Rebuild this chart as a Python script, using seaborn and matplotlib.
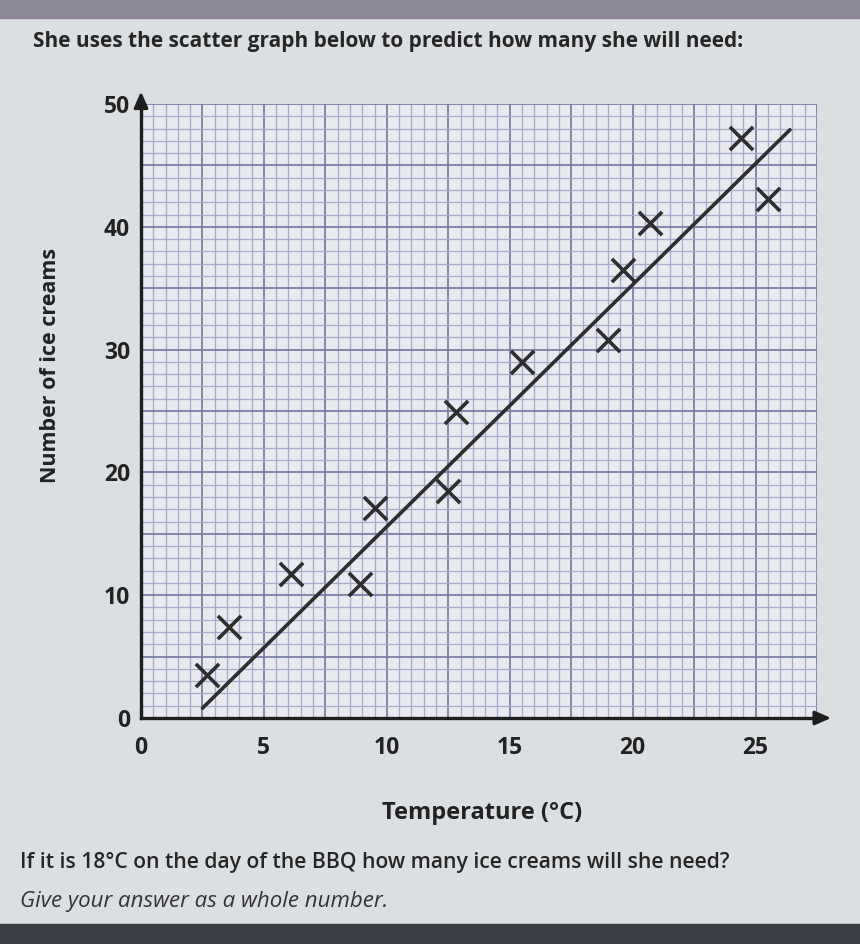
import numpy as np
import pandas as pd
import matplotlib
matplotlib.use("Agg")
import matplotlib.pyplot as plt
from matplotlib.ticker import MultipleLocator, FuncFormatter
from matplotlib.patches import Rectangle
import seaborn as sns

# ---- data ----
temperature = [2.7, 3.6, 6.1, 8.9, 9.5, 12.5, 12.8, 15.5, 19.0, 19.6, 20.7, 24.4, 25.5]
ice_creams = [3.5, 7.4, 11.7, 10.9, 17.1, 18.5, 24.9, 29.0, 30.8, 36.5, 40.3, 47.2, 42.3]
fit_x = [2.5, 26.4]
fit_y = [0.8, 47.9]

title_text = "She uses the scatter graph below to predict how many she will need:"
question_text = "If it is 18°C on the day of the BBQ how many ice creams will she need?"
hint_text = "Give your answer as a whole number."
x_label = "Temperature (°C)"
y_label = "Number of ice creams"

sns.set_theme(style="white")
plt.rcParams["font.family"] = ["Open Sans", "DejaVu Sans"]

fig = plt.figure(figsize=(8.6, 9.44), dpi=100)
fig.patch.set_facecolor("#dcdfe2")

# photo bands at top and bottom
fig.add_artist(Rectangle((0, 1 - 18 / 944), 1, 18 / 944, transform=fig.transFigure,
                         color="#8b8797", zorder=0))
fig.add_artist(Rectangle((0, 0), 1, 20 / 944, transform=fig.transFigure,
                         color="#3b3e45", zorder=0))

ax = fig.add_axes([141 / 860, (944 - 718) / 944, (817 - 141) / 860, (718 - 104) / 944])
ax.set_facecolor("#e8eaef")

df = pd.DataFrame({"t": temperature, "n": ice_creams})
fit = pd.DataFrame({"t": fit_x, "n": fit_y})

sns.lineplot(data=fit, x="t", y="n", ax=ax, color="#2e2e30", linewidth=2.6, zorder=4)
sns.scatterplot(data=df, x="t", y="n", ax=ax, marker="x", s=280, color="#2e2e30",
                linewidth=2.6, zorder=5)

ax.set_xlim(0, 27.5)
ax.set_ylim(0, 50)

ax.xaxis.set_major_locator(MultipleLocator(2.5))
ax.xaxis.set_minor_locator(MultipleLocator(0.5))
ax.yaxis.set_major_locator(MultipleLocator(5))
ax.yaxis.set_minor_locator(MultipleLocator(1))

ax.xaxis.set_major_formatter(FuncFormatter(lambda v, p: f"{int(round(v))}" if abs(v % 5) < 1e-6 and v < 27 else ""))
ax.yaxis.set_major_formatter(FuncFormatter(lambda v, p: f"{int(round(v))}" if abs(v % 10) < 1e-6 else ""))

ax.grid(which="major", color="#7a7fa6", linewidth=1.3, zorder=1)
ax.grid(which="minor", color="#a6aacb", linewidth=0.9, zorder=1)
ax.set_axisbelow(True)

ax.tick_params(axis="both", which="both", length=0, labelsize=16.5, labelcolor="#222222")
ax.tick_params(axis="x", pad=13)
ax.tick_params(axis="y", pad=8)
for lab in ax.get_xticklabels() + ax.get_yticklabels():
    lab.set_fontweight("bold")

for side in ["top", "right"]:
    ax.spines[side].set_visible(False)
for side in ["left", "bottom"]:
    ax.spines[side].set_color("#1e1e1e")
    ax.spines[side].set_linewidth(2.4)

# axis arrows
ax.annotate("", xy=(0, 1.025), xytext=(0, 0.99), xycoords="axes fraction",
            arrowprops=dict(arrowstyle="-|>,head_width=0.35,head_length=0.8", color="#1e1e1e", lw=2.2))
ax.annotate("", xy=(1.025, 0), xytext=(0.99, 0), xycoords="axes fraction",
            arrowprops=dict(arrowstyle="-|>,head_width=0.35,head_length=0.8", color="#1e1e1e", lw=2.2))

ax.set_xlabel(x_label, fontsize=17, fontweight="bold", color="#222222")
ax.set_ylabel(y_label, fontsize=15.5, fontweight="bold", color="#222222")
ax.yaxis.set_label_coords(-0.118, 0.575)
ax.xaxis.set_label_coords(0.505, -0.135)

fig.text(33 / 860, 1 - 42 / 944, title_text, fontsize=15, fontweight="bold",
         color="#262626", va="center", ha="left")
fig.text(20 / 860, 1 - 862 / 944, question_text, fontsize=15.2, fontweight="semibold",
         color="#262626", va="center", ha="left")
fig.text(20 / 860, 1 - 902 / 944, hint_text, fontsize=16, style="italic",
         color="#333333", va="center", ha="left")

fig.savefig("out.png", dpi=100, facecolor=fig.get_facecolor())
